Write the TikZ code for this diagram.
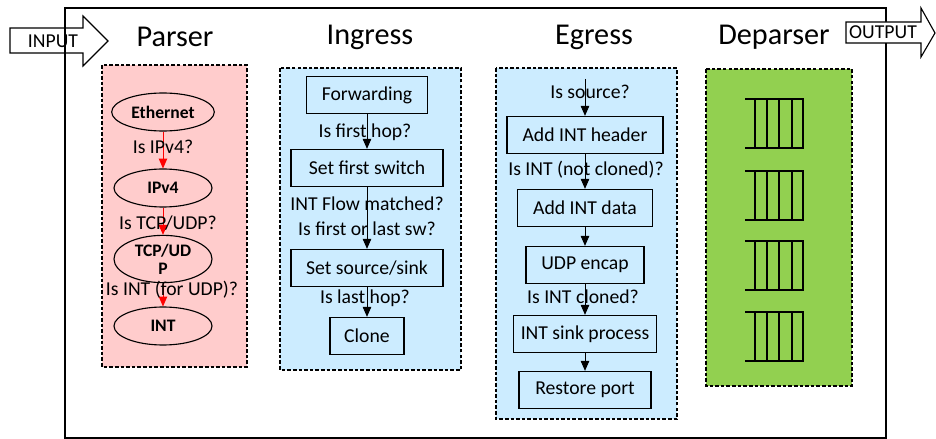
\documentclass[tikz,border=0pt]{standalone}
\usepackage{fontspec}
\setmainfont{Carlito}
\usetikzlibrary{arrows.meta}
\usetikzlibrary{shapes.geometric}
\usetikzlibrary{positioning}

\definecolor{parserpink}{HTML}{FFCCCC}
\definecolor{stageblue}{HTML}{CCECFF}
\definecolor{departgreen}{HTML}{92D050}

\tikzset{
  stagebox/.style={draw,dash pattern=on 2.5pt off 1.5pt,line width=0.8pt},
  hdr/.style={draw,ellipse,line width=0.8pt,minimum width=2.45cm,minimum height=0.95cm,
    font=\fontsize{12.5}{13}\selectfont\bfseries,align=center},
  act/.style={draw,rectangle,line width=0.8pt,minimum height=0.93cm},
  cond/.style={inner sep=0pt},
  flow/.style={-{Triangle[length=7pt,width=6pt]},line width=0.6pt},
  queue/.style={line width=1pt}
}

\begin{document}
\begin{tikzpicture}[x=0.025cm,y=-0.025cm,
  every node/.style={font=\fontsize{14}{16}\selectfont},
  title/.style={font=\fontsize{21.5}{24}\selectfont}]
  \useasboundingbox (0,0) rectangle (936,439);

  \draw[line width=1pt] (65,8) rectangle (886,438);

  \draw[line width=0.8pt] (10,28) -- (83,28) -- (83,16) -- (108,41) -- (83,66) -- (83,53) -- (10,53) -- cycle;
  \node (in) at (53,41) {INPUT};
  \draw[line width=0.8pt,fill=white] (846,22) -- (921,22) -- (921,8) -- (935,33) -- (921,57) -- (921,43) -- (846,43) -- cycle;
  \node (out) at (883,32) {OUTPUT};

  \node[title] (tp) at (175,37) {Parser};
  \node[title] (ti) at (370,37) {Ingress};
  \node[title] (te) at (594,37) {Egress};
  \node[title] (td) at (774,37) {Deparser};

  \fill[parserpink] (102,65) rectangle (247,367);
  \draw[stagebox] (102,65) rectangle (247,367);
  \fill[stageblue] (280,68) rectangle (461,370);
  \draw[stagebox] (280,68) rectangle (461,370);
  \fill[stageblue] (496,68) rectangle (677,419);
  \draw[stagebox] (496,68) rectangle (677,419);
  \fill[departgreen] (706,69) rectangle (852,386);
  \draw[stagebox] (706,69) rectangle (852,386);

  \node[hdr] (eth) at (163,112) {Ethernet};
  \node[hdr] (ip) at (163,188) {IPv4};
  \node[hdr,inner sep=1pt] (tcp) at (163,259) {TCP/UD\\P};
  \node[hdr] (int) at (163,326) {INT};

  \draw[flow,red] (eth) -- (ip);
  \draw[flow,red] (ip) -- (tcp);
  \draw[flow,red] (tcp) -- (int);
  \node[cond] (c1) at (163,147) {Is IPv4?};
  \node[cond] (c2) at (168,223) {Is TCP/UDP?};
  \node[cond] (c3) at (172,290) {Is INT (for UDP)?};

  \node[act,minimum width=3.025cm] (fwd) at (367,95) {Forwarding};
  \node[act,minimum width=3.8cm] (first) at (367,168) {Set first switch};
  \node[act,minimum width=3.8cm] (src) at (367,268) {Set source/sink};
  \node[act,minimum width=1.85cm] (clone) at (367,336) {Clone};

  \draw[flow] (fwd) -- (first);
  \draw[flow] (first) -- (src);
  \draw[flow] (src) -- (clone);
  \node[cond] (c4) at (365,132) {Is first hop?};
  \node[cond] (c5) at (367,204) {INT Flow matched?};
  \node[cond] (c6) at (367,229) {Is first or last sw?};
  \node[cond] (c7) at (365,298) {Is last hop?};

  \coordinate (eg) at (585,79);
  \node[act,minimum width=3.9cm] (hdr) at (585,135) {Add INT header};
  \node[act,minimum width=3.375cm] (data) at (585,208) {Add INT data};
  \node[act,minimum width=2.95cm] (udp) at (585,265) {UDP encap};
  \node[act,minimum width=3.575cm] (sink) at (585,334) {INT sink process};
  \node[act,minimum width=3.3cm] (port) at (585,390) {Restore port};

  \draw[flow] (eg) -- (hdr);
  \draw[flow] (hdr) -- (data);
  \draw[flow] (data) -- (udp);
  \draw[flow] (udp) -- (sink);
  \draw[flow] (sink) -- (port);
  \node[cond] (c8) at (590,92) {Is source?};
  \node[cond] (c9) at (586,170) {Is INT (not cloned)?};
  \node[cond] (c10) at (583,297) {Is INT cloned?};

  \foreach \qy in {99,171,241,312}{
    \draw[queue] (745,\qy) -- (803,\qy) -- (803,\qy+49) -- (745,\qy+49);
    \foreach \qx in {755,767,779,792}
      \draw[queue] (\qx,\qy) -- (\qx,\qy+49);
  }
\end{tikzpicture}
\end{document}
